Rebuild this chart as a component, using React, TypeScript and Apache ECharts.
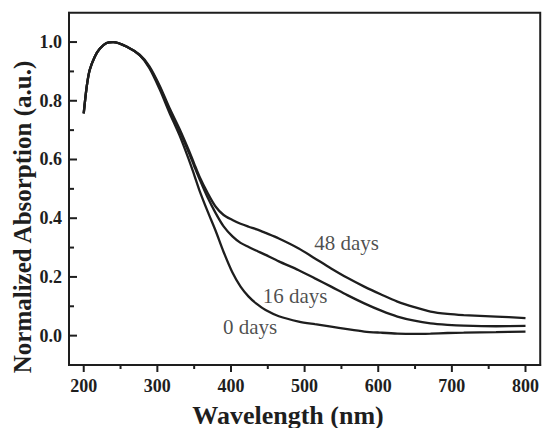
import React, { useEffect, useRef } from "react";
import * as echarts from "echarts";

const wavelengths = [200, 204, 208, 215, 222, 231, 240, 258, 276, 289, 303, 316, 330, 343, 350, 357, 368, 379, 390, 402, 413, 424, 435, 447, 465, 492, 514, 536, 558, 581, 604, 626, 649, 671, 694, 716, 760, 800];

const days0 = [0.757, 0.847, 0.904, 0.95, 0.978, 0.997, 1.0, 0.985, 0.955, 0.912, 0.84, 0.762, 0.683, 0.598, 0.548, 0.496, 0.425, 0.358, 0.285, 0.215, 0.167, 0.133, 0.108, 0.087, 0.066, 0.048, 0.039, 0.031, 0.022, 0.014, 0.01, 0.007, 0.006, 0.007, 0.009, 0.01, 0.012, 0.014];
const days16 = [0.757, 0.847, 0.904, 0.95, 0.978, 0.997, 1.0, 0.985, 0.955, 0.915, 0.847, 0.772, 0.698, 0.622, 0.578, 0.535, 0.472, 0.418, 0.372, 0.338, 0.316, 0.302, 0.289, 0.275, 0.253, 0.223, 0.195, 0.167, 0.138, 0.11, 0.085, 0.065, 0.051, 0.042, 0.037, 0.034, 0.032, 0.033];
const days48 = [0.757, 0.847, 0.904, 0.95, 0.978, 0.997, 1.0, 0.985, 0.957, 0.918, 0.852, 0.778, 0.705, 0.63, 0.586, 0.543, 0.487, 0.44, 0.411, 0.394, 0.381, 0.371, 0.362, 0.35, 0.331, 0.297, 0.263, 0.229, 0.197, 0.167, 0.14, 0.116, 0.097, 0.082, 0.074, 0.07, 0.065, 0.06];

const seriesNames = ["0 days", "16 days", "48 days"];
const annotations: [number, number, string][] = [
  [426, 0.031, "0 days"],
  [487, 0.135, "16 days"],
  [557, 0.316, "48 days"],
];

const xMajor = [200, 300, 400, 500, 600, 700, 800];
const xMinor = [250, 350, 450, 550, 650, 750];
const yMajor = [0, 0.2, 0.4, 0.6, 0.8, 1.0];
const yMinor = [0.1, 0.3, 0.5, 0.7, 0.9];

const X_MIN = 180;
const X_MAX = 820;
const Y_MIN = -0.1;
const Y_MAX = 1.1;

const FONT = "Liberation Serif";
const INK = "#1e1e1e";

export default function App() {
  const ref = useRef<HTMLDivElement>(null);
  useEffect(() => {
    if (!ref.current) return;
    const chart = echarts.init(ref.current, undefined, { renderer: "svg" });
    const labelStyle = {
      fontFamily: FONT,
      fontWeight: "bold" as const,
      fontSize: 18,
      color: INK,
    };
    const xTickSeries = (vals: number[], len: number) => ({
      type: "custom",
      xAxisIndex: 0,
      yAxisIndex: 0,
      clip: false,
      silent: true,
      z: 5,
      data: vals.map((v) => [v, Y_MIN]),
      renderItem: (_p: any, api: any) => {
        const p = api.coord([api.value(0), Y_MIN]);
        return {
          type: "line",
          shape: { x1: p[0], y1: p[1], x2: p[0], y2: p[1] + len },
          style: { stroke: INK, lineWidth: 2 },
        };
      },
    });
    const yTickSeries = (vals: number[], len: number) => ({
      type: "custom",
      xAxisIndex: 0,
      yAxisIndex: 0,
      clip: false,
      silent: true,
      z: 5,
      data: vals.map((v) => [X_MIN, v]),
      renderItem: (_p: any, api: any) => {
        const p = api.coord([X_MIN, api.value(1)]);
        return {
          type: "line",
          shape: { x1: p[0], y1: p[1], x2: p[0] + len, y2: p[1] },
          style: { stroke: INK, lineWidth: 2 },
        };
      },
    });
    const all = [days0, days16, days48];
    chart.setOption({
      animation: false,
      backgroundColor: "#ffffff",
      grid: {
        left: 69,
        top: 12.7,
        right: -1.5,
        bottom: 63,
        show: true,
        borderColor: INK,
        borderWidth: 2,
        backgroundColor: "transparent",
      },
      xAxis: {
        type: "value",
        min: X_MIN,
        max: X_MAX,
        position: "bottom",
        splitLine: { show: false },
        axisLine: { show: true, onZero: false, lineStyle: { color: INK, width: 2 } },
        axisTick: { show: false },
        axisLabel: { ...labelStyle, margin: 12, customValues: xMajor.slice(), formatter: (v: number) => String(v) },
      },
      yAxis: {
        type: "value",
        min: Y_MIN,
        max: Y_MAX,
        position: "left",
        splitLine: { show: false },
        axisLine: { show: true, onZero: false, lineStyle: { color: INK, width: 2 } },
        axisTick: { show: false },
        axisLabel: { ...labelStyle, margin: 7, customValues: yMajor.slice(), formatter: (v: number) => v.toFixed(1) },
      },
      series: [
        ...all.map((vals, k) => ({
          name: seriesNames[k],
          type: "line",
          xAxisIndex: 0,
          yAxisIndex: 0,
          showSymbol: false,
          smooth: 0.3,
          lineStyle: { color: INK, width: 2.3 },
          data: wavelengths.map((w, i) => [w, vals[i]]),
          z: 3,
        })),
        {
          type: "scatter",
          xAxisIndex: 0,
          yAxisIndex: 0,
          symbolSize: 1,
          itemStyle: { color: "rgba(0,0,0,0)" },
          label: {
            show: true,
            position: "inside",
            formatter: (p: any) => p.value[2],
            fontFamily: FONT,
            fontSize: 21,
            color: INK,
          },
          data: annotations,
          z: 4,
        },
        xTickSeries(xMajor, 7),
        xTickSeries(xMinor, 4),
        yTickSeries(yMajor, 8),
        yTickSeries(yMinor, 5),
      ],
      graphic: [
        {
          type: "text",
          x: 288,
          y: 415,
          style: {
            text: "Wavelength (nm)",
            fontFamily: FONT,
            fontWeight: "bold",
            fontSize: 26,
            fill: INK,
            align: "center",
            verticalAlign: "middle",
          },
        },
        {
          type: "text",
          x: 22,
          y: 217,
          rotation: Math.PI / 2,
          style: {
            text: "Normalized Absorption (a.u.)",
            fontFamily: FONT,
            fontWeight: "bold",
            fontSize: 25,
            fill: INK,
            align: "center",
            verticalAlign: "middle",
          },
        },
      ],
    });
    return () => chart.dispose();
  }, []);
  return (
    <div
      ref={ref}
      style={{ position: "absolute", left: 0, top: 0, width: 542, height: 428, background: "#fff" }}
    />
  );
}
